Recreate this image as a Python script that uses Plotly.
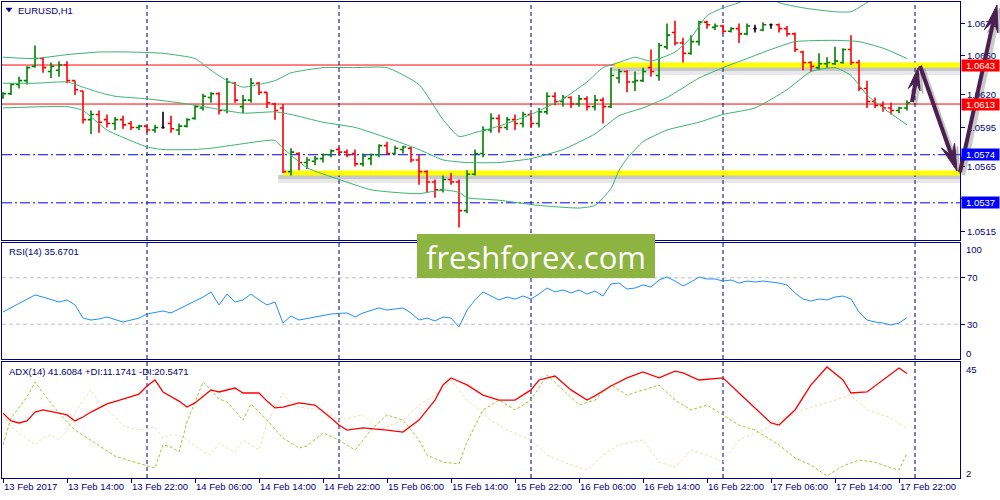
import math
import plotly.graph_objects as go

# ---------------- data ----------------
bar_index = list(range(114))   # H1 bars, 13 Feb 2017 06:00 ... 17 Feb 23:00

opens = [1.0618,1.0621,1.0628,1.0631,1.0642,1.0648,1.0638,1.0639,1.0643,1.0631,
 1.0623,1.0601,1.0605,1.0601,1.0598,1.0601,1.0598,1.0595,1.0596,1.0593,
 1.0595,1.0598,1.0593,1.0596,1.0602,1.0610,1.0618,1.0621,1.0608,1.0629,
 1.0611,1.0616,1.0629,1.0622,1.0613,1.0610,1.0561,1.0575,1.0568,1.0569,
 1.0571,1.0574,1.0578,1.0576,1.0575,1.0567,1.0571,1.0574,1.0581,1.0575,
 1.0578,1.0579,1.0570,1.0561,1.0553,1.0547,1.0555,1.0553,1.0531,1.0559,
 1.0575,1.0593,1.0602,1.0595,1.0601,1.0598,1.0605,1.0598,1.0607,1.0619,
 1.0615,1.0618,1.0613,1.0617,1.0611,1.0616,1.0611,1.0633,1.0638,1.0630,
 1.0631,1.0641,1.0635,1.0657,1.0668,1.0660,1.0652,1.0661,1.0676,1.0672,
 1.0673,1.0669,1.0671,1.0667,1.0671,1.0670,1.0674,1.0674,1.0671,1.0667,
 1.0653,1.0645,1.0641,1.0644,1.0644,1.0645,1.0655,1.0645,1.0625,1.0615,
 1.0612,1.0610,1.0608,1.0610]
highs = [1.0622,1.0629,1.0634,1.0642,1.0658,1.0649,1.0645,1.0646,1.0646,1.0631,
 1.0623,1.0608,1.0608,1.0605,1.0603,1.0604,1.0600,1.0597,1.0597,1.0597,
 1.0607,1.0604,1.0598,1.0602,1.0612,1.0621,1.0622,1.0622,1.0633,1.0630,
 1.0620,1.0633,1.0630,1.0622,1.0614,1.0613,1.0579,1.0576,1.0572,1.0573,
 1.0575,1.0578,1.0580,1.0578,1.0578,1.0575,1.0575,1.0582,1.0584,1.0581,
 1.0581,1.0580,1.0574,1.0562,1.0555,1.0558,1.0560,1.0555,1.0562,1.0578,
 1.0596,1.0606,1.0605,1.0603,1.0605,1.0607,1.0606,1.0610,1.0622,1.0622,
 1.0620,1.0619,1.0620,1.0619,1.0620,1.0618,1.0641,1.0640,1.0639,1.0638,
 1.0641,1.0655,1.0660,1.0675,1.0677,1.0664,1.0666,1.0677,1.0677,1.0675,
 1.0674,1.0672,1.0675,1.0675,1.0674,1.0676,1.0675,1.0675,1.0673,1.0668,
 1.0654,1.0646,1.0652,1.0649,1.0657,1.0656,1.0666,1.0647,1.0631,1.0618,
 1.0615,1.0614,1.0611,1.0616]
lows = [1.0617,1.0620,1.0625,1.0628,1.0641,1.0637,1.0633,1.0634,1.0629,1.0620,
 1.0598,1.0590,1.0591,1.0595,1.0593,1.0594,1.0593,1.0593,1.0591,1.0591,
 1.0594,1.0591,1.0589,1.0595,1.0601,1.0608,1.0614,1.0605,1.0606,1.0614,
 1.0606,1.0614,1.0620,1.0610,1.0601,1.0560,1.0558,1.0562,1.0563,1.0566,
 1.0568,1.0572,1.0574,1.0572,1.0565,1.0565,1.0566,1.0572,1.0574,1.0574,
 1.0575,1.0568,1.0551,1.0545,1.0541,1.0545,1.0551,1.0518,1.0529,1.0558,
 1.0572,1.0591,1.0591,1.0593,1.0593,1.0595,1.0595,1.0595,1.0605,1.0612,
 1.0611,1.0610,1.0611,1.0608,1.0608,1.0598,1.0610,1.0629,1.0622,1.0623,
 1.0630,1.0634,1.0631,1.0655,1.0658,1.0645,1.0651,1.0658,1.0671,1.0670,
 1.0667,1.0668,1.0660,1.0666,1.0668,1.0669,1.0671,1.0668,1.0665,1.0653,
 1.0639,1.0638,1.0639,1.0641,1.0643,1.0644,1.0643,1.0623,1.0610,1.0610,
 1.0607,1.0605,1.0606,1.0608]
closes = [1.0621,1.0628,1.0631,1.0641,1.0648,1.0641,1.0642,1.0643,1.0631,1.0624,
 1.0601,1.0605,1.0599,1.0598,1.0601,1.0597,1.0595,1.0596,1.0593,1.0595,
 1.0595,1.0594,1.0596,1.0601,1.0611,1.0619,1.0621,1.0608,1.0630,1.0616,
 1.0616,1.0629,1.0622,1.0614,1.0608,1.0561,1.0576,1.0568,1.0570,1.0571,
 1.0574,1.0577,1.0576,1.0574,1.0567,1.0573,1.0574,1.0581,1.0575,1.0579,
 1.0580,1.0570,1.0561,1.0553,1.0547,1.0555,1.0553,1.0531,1.0559,1.0575,
 1.0593,1.0602,1.0595,1.0601,1.0598,1.0605,1.0598,1.0607,1.0619,1.0615,
 1.0618,1.0613,1.0617,1.0611,1.0616,1.0611,1.0635,1.0638,1.0630,1.0631,
 1.0638,1.0638,1.0658,1.0666,1.0660,1.0652,1.0661,1.0676,1.0674,1.0673,
 1.0669,1.0671,1.0667,1.0673,1.0671,1.0674,1.0674,1.0671,1.0667,1.0655,
 1.0645,1.0642,1.0644,1.0645,1.0646,1.0655,1.0645,1.0625,1.0615,1.0612,
 1.0610,1.0608,1.0610,1.0614]

time_tick_index = [0, 8, 16, 24, 32, 40, 48, 56, 64, 72, 80, 88, 96, 104, 112]
time_tick_text = ["13 Feb 2017", "13 Feb 14:00", "13 Feb 22:00", "14 Feb 06:00",
                  "14 Feb 14:00", "14 Feb 22:00", "15 Feb 06:00", "15 Feb 14:00",
                  "15 Feb 22:00", "16 Feb 06:00", "16 Feb 14:00", "16 Feb 22:00",
                  "17 Feb 06:00", "17 Feb 14:00", "17 Feb 22:00"]
day_separator_index = [18, 42, 66, 90, 114]

bb_upper_index = [0,4,8,12,16,20,24,26,28,30,32,34,36,40,44,48,52,55,57,59,62,66,70,73,75,
                  77,79,81,84,86,88,90,92,94,96,97,100,104,106,108,110,113]
bb_upper = [1.0649,1.0648,1.0651,1.0653,1.0653,1.0652,1.0648,1.0639,1.0631,1.0626,1.0628,
            1.0631,1.0637,1.0641,1.0641,1.0641,1.0628,1.0601,1.0588,1.0591,1.0596,1.0605,
            1.0617,1.0630,1.0641,1.0645,1.0649,1.0646,1.0653,1.0664,1.0681,1.0687,1.0691,
            1.0697,1.0695,1.0691,1.0687,1.0684,1.0684,1.0691,1.0699,1.0708]
bb_middle_index = [0,4,8,10,12,14,18,22,26,30,34,36,40,44,48,52,55,58,62,66,70,74,77,80,
                   83,87,90,93,96,99,104,107,110,113]
bb_middle = [1.0629,1.0629,1.0630,1.0626,1.0622,1.0619,1.0617,1.0614,1.0610,1.0606,1.0607,
             1.0605,1.0599,1.0595,1.0587,1.0578,1.0570,1.0568,1.0568,1.0571,1.0578,1.0590,
             1.0604,1.0610,1.0618,1.0633,1.0641,1.0648,1.0655,1.0661,1.0662,1.0661,1.0656,
             1.0648]
bb_lower_index = [0,8,10,13,18,20,24,26,33,34,35,38,42,46,49,52,55,57,58,62,67,72,74,76,77,
                  78,80,83,87,90,94,98,101,104,106,108,110,113]
bb_lower = [1.0610,1.0611,1.0608,1.0593,1.0580,1.0578,1.0578,1.0579,1.0585,1.0585,1.0579,
            1.0564,1.0555,1.0547,1.0545,1.0544,1.0547,1.0545,1.0541,1.0539,1.0535,1.0533,
            1.0535,1.0548,1.0562,1.0571,1.0584,1.0593,1.0599,1.0605,1.0610,1.0624,1.0638,
            1.0641,1.0635,1.0620,1.0610,1.0597]

rsi_index = [0,4,5,7,8,9,10,11,12,13,15,17,18,20,21,23,25,26,27,28,29,30,31,32,33,34,35,36,
             37,39,41,43,44,45,47,48,50,51,52,53,54,55,56,57,58,59,60,61,62,63,64,65,66,67,
             68,69,70,71,72,73,74,75,76,77,78,79,80,81,82,83,84,85,86,87,88,89,90,91,92,93,
             94,95,96,97,98,99,100,101,102,103,104,105,106,107,108,109,110,111,112,113]
rsi_values = [40.5,55.2,53.4,49.1,50.9,46.6,35.3,33.6,34.5,36.2,31.9,35.3,38.8,41.4,39.7,
              46.6,53.4,57.8,46.6,56.0,49.1,50.9,56.0,50.9,46.6,49.1,31.0,37.1,33.6,36.2,
              38.8,39.7,36.2,39.7,44.0,42.2,44.0,39.7,33.6,35.3,32.8,36.2,35.3,27.6,42.2,
              50.9,57.8,54.3,50.9,53.4,51.7,54.3,51.7,56.0,61.2,57.8,59.5,56.9,59.5,56.0,
              58.6,54.3,64.7,65.5,60.3,61.2,63.8,62.1,68.1,70.7,67.2,62.9,66.4,70.7,69.0,
              69.0,67.2,68.1,65.5,67.2,66.4,67.2,66.4,65.5,63.8,56.9,51.7,50.0,51.7,50.9,
              53.4,54.3,51.7,40.5,33.6,31.9,31.0,29.3,31.0,35.67]
rsi_ticks = [70, 30]

adx_index = [0,1,2,3,4,5,7,8,9,10,11,13,15,17,18,19,20,21,22,23,24,26,27,29,30,32,33,34,35,
             37,39,41,42,43,45,48,50,52,54,55,56,58,60,62,64,66,67,69,71,73,74,76,78,80,82,
             84,85,87,90,92,94,96,97,99,101,103,105,106,108,110,112,113]
adx_values = [26.4,23.4,22.6,23.4,26.8,27.6,26.4,25.7,23.4,24.9,26.8,29.9,31.8,33.7,36.8,
              39.1,34.5,32.6,31.0,28.7,30.3,35.3,34.5,36.0,34.1,34.1,31.0,28.4,28.7,30.3,
              29.5,24.5,21.8,19.9,20.7,19.9,19.1,23.7,31.4,37.2,39.9,37.2,33.3,31.4,31.4,
              35.3,39.1,40.6,35.3,31.4,33.0,36.8,39.9,42.2,39.9,42.5,41.8,39.1,39.9,34.1,
              28.4,22.6,21.8,27.6,37.2,44.1,39.1,34.1,34.5,39.1,43.7,41.61]
pdi_index = [0,1,3,4,5,7,9,12,14,16,18,19,20,21,22,23,25,26,27,28,30,31,33,35,37,38,40,42,
             44,46,48,50,52,53,55,57,58,60,62,64,66,68,70,72,74,76,78,80,82,84,86,88,90,92,
             94,96,97,99,101,103,105,107,109,111,112,113]
pdi_values = [14.2,24.5,32.6,38.3,34.1,26.4,19.9,13.8,9.9,8.0,6.1,5.3,14.2,13.4,11.5,23.0,
              38.3,35.3,31.8,30.7,23.7,29.9,23.7,16.8,13.0,13.8,18.8,16.1,12.2,19.9,25.7,
              23.7,16.1,10.3,7.6,6.9,15.3,27.6,31.4,27.6,31.4,41.0,35.3,29.5,31.4,37.2,
              33.3,35.3,37.2,31.4,27.6,29.5,25.7,21.8,19.9,16.1,14.2,9.2,6.5,2.3,6.1,8.4,
              7.6,5.3,4.6,11.17]
mdi_index = [0,1,3,4,5,6,7,8,9,11,12,14,15,17,19,20,21,22,23,25,26,27,28,29,30,32,33,35,36,
             37,40,42,45,47,50,52,55,56,58,61,63,66,68,71,73,75,77,80,82,84,86,88,90,92,95,
             97,100,102,104,106,108,111,113]
mdi_values = [25.7,21.1,16.5,14.2,16.8,18.0,16.1,19.9,26.8,35.3,30.3,24.9,21.4,19.9,21.1,
              16.8,18.0,18.0,16.1,11.5,10.3,14.9,13.0,11.5,16.1,12.2,22.6,34.1,30.3,28.7,
              27.6,23.7,25.7,19.9,23.7,29.5,35.3,39.1,31.4,23.7,19.9,16.1,10.3,6.5,4.6,
              10.3,14.2,16.1,7.6,5.7,12.2,10.3,7.6,16.1,19.9,23.7,27.6,29.5,31.4,33.3,
              27.6,24.5,20.55]

price_ticks = [1.0515, 1.0540, 1.0565, 1.0595, 1.0620, 1.0650, 1.0675]
price_tick_text = ['1.0515', '', '1.0565', '1.0595', '1.0620', '1.0650', '1.0675']
red_levels = [1.0643, 1.0613]
blue_levels = [1.0574, 1.0537]
zone_levels = [1.0643, 1.0560]
zone_start_bar = [76.5, 35]

# ---------------- geometry / styles ----------------
W, H = 1000, 500
ML, MR, MT, MB = 2, 40, 2, 22
PW, PH = W - ML - MR, H - MT - MB
BAR_PX = 8.0


def PX(x):
    return (x - ML) / PW


def PY(y):
    return 1 - (y - MT) / PH


XR = [-1 / BAR_PX, -1 / BAR_PX + PW / BAR_PX]
NAVY = '#000080'
FONT = 'Liberation Sans'
FS = 9.5

fig = go.Figure()

# price bars
norm = [i for i in bar_index if opens[i] != closes[i]]
doji = [i for i in bar_index if opens[i] == closes[i]]
fig.add_trace(go.Ohlc(
    x=[bar_index[i] for i in norm], open=[opens[i] for i in norm],
    high=[highs[i] for i in norm], low=[lows[i] for i in norm],
    close=[closes[i] for i in norm],
    increasing=dict(line=dict(color='#008000', width=1.6)),
    decreasing=dict(line=dict(color='#FF0000', width=1.6)),
    tickwidth=0.4, xaxis='x', yaxis='y', hoverinfo='skip', showlegend=False))
fig.add_trace(go.Ohlc(
    x=[bar_index[i] for i in doji], open=[opens[i] for i in doji],
    high=[highs[i] for i in doji], low=[lows[i] for i in doji],
    close=[closes[i] for i in doji],
    increasing=dict(line=dict(color='#000000', width=1.6)),
    decreasing=dict(line=dict(color='#000000', width=1.6)),
    tickwidth=0.2, xaxis='x', yaxis='y', hoverinfo='skip', showlegend=False))

# Bollinger bands
for xi, yv in [(bb_upper_index, bb_upper), (bb_middle_index, bb_middle), (bb_lower_index, bb_lower)]:
    fig.add_trace(go.Scatter(x=xi, y=yv, mode='lines', xaxis='x', yaxis='y',
                             line=dict(color='#3CB371', width=1, shape='spline', smoothing=0.5),
                             hoverinfo='skip', showlegend=False))

# RSI
fig.add_trace(go.Scatter(x=rsi_index, y=rsi_values, mode='lines', xaxis='x2', yaxis='y2',
                         line=dict(color='#1E90FF', width=1), hoverinfo='skip', showlegend=False))

# ADX
fig.add_trace(go.Scatter(x=mdi_index, y=mdi_values, mode='lines', xaxis='x3', yaxis='y3',
                         line=dict(color='#F5DEB3', width=1, dash='3px,2px'), hoverinfo='skip', showlegend=False))
fig.add_trace(go.Scatter(x=pdi_index, y=pdi_values, mode='lines', xaxis='x3', yaxis='y3',
                         line=dict(color='#9ACD32', width=1, dash='3px,2px'), hoverinfo='skip', showlegend=False))
fig.add_trace(go.Scatter(x=adx_index, y=adx_values, mode='lines', xaxis='x3', yaxis='y3',
                         line=dict(color='#FF0000', width=1.3), hoverinfo='skip', showlegend=False))

shapes = []
# yellow zones with a soft shadow
for lvl, xs in zip(zone_levels, zone_start_bar):
    shapes.append(dict(type='rect', xref='x', yref='y', x0=xs - 0.6, x1=XR[1], ysizemode='pixel',
                       yanchor=lvl, y0=-2, y1=-6, fillcolor='rgba(0,0,0,0.22)', line=dict(width=0), layer='below'))
    shapes.append(dict(type='rect', xref='x', yref='y', x0=xs - 0.6, x1=XR[1], ysizemode='pixel',
                       yanchor=lvl, y0=-6, y1=-10, fillcolor='rgba(0,0,0,0.09)', line=dict(width=0), layer='below'))
    shapes.append(dict(type='line', xref='x', yref='y', x0=xs, x1=XR[1], y0=lvl, y1=lvl,
                       line=dict(color='#FFFF00', width=5), layer='below'))
for lvl in red_levels:
    shapes.append(dict(type='line', xref='x domain', yref='y', x0=0, x1=1, y0=lvl, y1=lvl,
                       line=dict(color='#FF0000', width=1), layer='below'))
for lvl in blue_levels:
    shapes.append(dict(type='line', xref='x domain', yref='y', x0=0, x1=1, y0=lvl, y1=lvl,
                       line=dict(color='#0000FF', width=1, dash='10px,3px,2px,3px'), layer='below'))
for lvl in rsi_ticks:
    shapes.append(dict(type='line', xref='x2 domain', yref='y2', x0=0, x1=1, y0=lvl, y1=lvl,
                       line=dict(color='#C0C0C0', width=1, dash='4px,3px'), layer='below'))
for s in day_separator_index:
    for xr, yr in [('x', 'y domain'), ('x2', 'y2 domain'), ('x3', 'y3 domain')]:
        shapes.append(dict(type='line', xref=xr, yref=yr, x0=s, x1=s, y0=0, y1=1,
                           line=dict(color=NAVY, width=1, dash='4px,3px'), layer='below'))

# title triangle
shapes.append(dict(type='path', xref='paper', yref='paper',
                   path=f'M {PX(6)},{PY(8)} L {PX(12)},{PY(8)} L {PX(9)},{PY(12)} Z',
                   fillcolor=NAVY, line=dict(color=NAVY, width=0.5), layer='above'))

# logo box
shapes.append(dict(type='rect', xref='paper', yref='paper', x0=PX(417), x1=PX(655),
                   y0=PY(278), y1=PY(234), fillcolor='#8DB341', line=dict(width=0), layer='above'))


def arrow(tail, head, color, shaft=4.0, hl=25.0, hw=14.0):
    tx, ty = tail
    hx, hy = head
    dx, dy = hx - tx, hy - ty
    L = math.hypot(dx, dy)
    ux, uy = dx / L, dy / L
    nx, ny = -uy, ux
    bx, by = hx - ux * hl, hy - uy * hl
    ex, ey = hx - ux * hl * 0.6, hy - uy * hl * 0.6
    out = [dict(type='line', xref='paper', yref='paper', x0=PX(tx), y0=PY(ty), x1=PX(ex), y1=PY(ey),
                line=dict(color=color, width=shaft), layer='above'),
           dict(type='path', xref='paper', yref='paper',
                path=(f'M {PX(hx)},{PY(hy)} L {PX(bx + nx * hw / 2)},{PY(by + ny * hw / 2)} '
                      f'L {PX(ex)},{PY(ey)} L {PX(bx - nx * hw / 2)},{PY(by - ny * hw / 2)} Z'),
                fillcolor=color, line=dict(color=color, width=1), layer='above')]
    return out


ARROWS = [((912, 102), (918, 68), 22, 12), ((920, 66), (957, 171), 27, 14), ((960, 172), (997, 5), 27, 14)]
for (t, h, hl, hw) in ARROWS:
    shapes += arrow((t[0] + 3, t[1] + 3), (h[0] + 3, h[1] + 3), 'rgba(60,60,60,0.28)', 4.5, hl, hw)
for (t, h, hl, hw) in ARROWS:
    shapes += arrow(t, h, '#4B1F4F', 4.0, hl, hw)

annotations = []


def note(x, y, text, size=FS, color=NAVY, **kw):
    d = dict(xref='paper', yref='paper', x=PX(x), y=PY(y), text=text, showarrow=False,
             xanchor='left', yanchor='middle', font=dict(family=FONT, size=size, color=color))
    d.update(kw)
    annotations.append(d)


note(16, 10, 'EURUSD,H1')
note(7, 251, 'RSI(14) 35.6701')
note(7, 371, 'ADX(14) 41.6084 +DI:11.1741 -DI:20.5471')
note(964, 249, '100')
note(964, 353, '0')
note(964, 369, '45')
note(964, 473, '2')

for lvl, col in [(red_levels[0], '#FF0000'), (red_levels[1], '#FF0000'),
                 (blue_levels[0], '#0000FF'), (blue_levels[1], '#0000FF')]:
    annotations.append(dict(xref='paper', yref='y', x=PX(961), y=lvl, text=f'{lvl:.4f}',
                            showarrow=False, xanchor='left', yanchor='middle', bgcolor=col,
                            width=37, height=11, borderpad=0, align='center',
                            font=dict(family=FONT, size=FS, color='white')))

annotations.append(dict(xref='paper', yref='paper', x=PX(536), y=PY(257), text='freshforex.com',
                        showarrow=False, xanchor='center', yanchor='middle',
                        font=dict(family='Open Sans', size=31, color='white')))

axis_common = dict(showline=True, mirror=True, linecolor=NAVY, linewidth=1,
                   showgrid=False, zeroline=False, fixedrange=True, automargin=False)
tickfont = dict(family=FONT, size=FS, color=NAVY)

fig.update_layout(
    width=W, height=H, margin=dict(l=ML, r=MR, t=MT, b=MB, autoexpand=False),
    paper_bgcolor='white', plot_bgcolor='white', showlegend=False,
    font=dict(family=FONT, size=FS, color=NAVY),
    xaxis=dict(domain=[0, 1], anchor='y', range=XR, showticklabels=False, ticks='',
               rangeslider=dict(visible=False), **axis_common),
    xaxis2=dict(domain=[0, 1], anchor='y2', range=XR, showticklabels=False, ticks='', **axis_common),
    xaxis3=dict(domain=[0, 1], anchor='y3', range=XR, tickmode='array', tickvals=time_tick_index,
                ticktext=time_tick_text, ticks='outside', ticklen=4, tickcolor=NAVY, tickangle=0,
                ticklabelposition='outside right', tickfont=tickfont, **axis_common),
    yaxis=dict(domain=[PY(240), 1], anchor='x', side='right', range=[1.05084, 1.06915],
               tickmode='array', tickvals=price_ticks, ticktext=price_tick_text,
               ticks='outside', ticklen=4, tickcolor=NAVY, tickfont=tickfont, **axis_common),
    yaxis2=dict(domain=[PY(359), PY(243)], anchor='x2', side='right', range=[0, 100],
                tickmode='array', tickvals=rsi_ticks, ticktext=[str(v) for v in rsi_ticks],
                ticks='outside', ticklen=4, tickcolor=NAVY, tickfont=tickfont, **axis_common),
    yaxis3=dict(domain=[0, PY(362)], anchor='x3', side='right', range=[1.5, 46],
                showticklabels=False, ticks='', **axis_common),
    shapes=shapes, annotations=annotations,
)

fig.write_html('out.html', config={'displayModeBar': False},
               post_script="document.body.style.margin='0px';document.body.style.overflow='hidden';")
